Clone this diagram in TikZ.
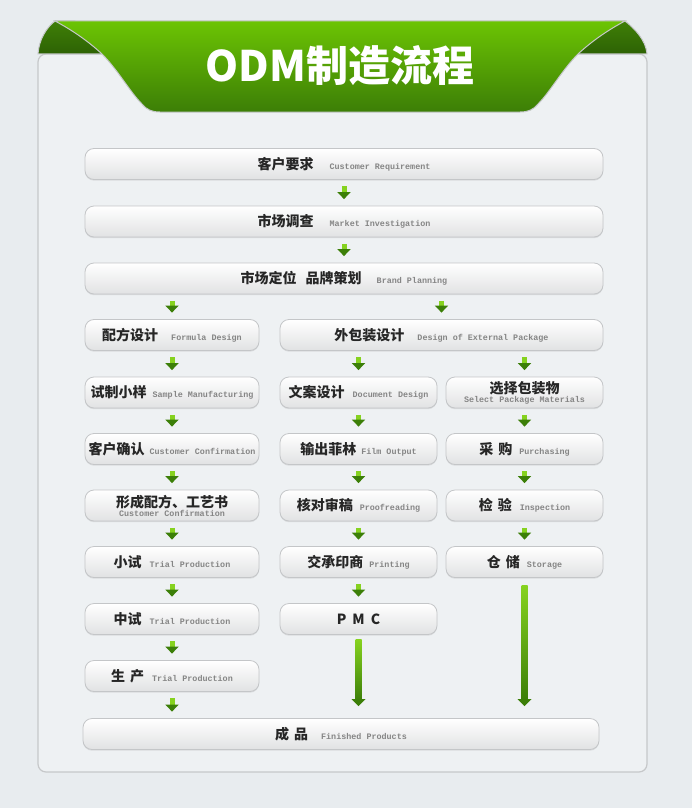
\documentclass[tikz,border=0pt]{standalone}
\usepackage{fontspec}
\usetikzlibrary{arrows.meta,calc,shadows}
\newfontfamily\zh{Noto Sans CJK SC}
\newfontfamily\en{Liberation Mono}
\definecolor{pagebg}{HTML}{E8ECEF}
\definecolor{panelbg}{HTML}{EEF1F3}
\definecolor{panelline}{HTML}{C6C8CA}
\definecolor{ribtop}{HTML}{6CC404}
\definecolor{ribbot}{HTML}{3C7E06}
\definecolor{foldtop}{HTML}{3F7F07}
\definecolor{foldbot}{HTML}{2D6204}
\definecolor{boxline}{HTML}{C4C6C8}
\definecolor{boxbot}{HTML}{E1E2E3}
\definecolor{entext}{HTML}{858585}
\definecolor{arrlight}{HTML}{86D21F}
\definecolor{arrdark}{HTML}{3C7F08}
\newcommand{\duo}[3][8pt]{{\zh\bfseries\fontsize{14}{16}\selectfont #2}\hspace{#1}{\en\bfseries\fontsize{8.4}{10}\selectfont\color{entext}#3}}
\newcommand{\twin}[2]{{\zh\bfseries\fontsize{14}{15}\selectfont #1}\\[-3pt]{\en\bfseries\fontsize{8.4}{9}\selectfont\color{entext}#2}}
\tikzset{
  stage/.style={rounded corners=9pt, draw=boxline, line width=.8pt,
    top color=white, bottom color=boxbot, minimum height=31pt, inner sep=0pt,
    align=center, text=black!85,
    drop shadow={shadow xshift=0pt, shadow yshift=-1.2pt, opacity=.18, fill=gray}},
  dn/.style={line width=5pt, draw=arrlight, shorten <=6.5pt, shorten >=6.5pt,
    -{Triangle[width=13pt,length=7pt,color=arrdark]}}
}
\begin{document}
\begin{tikzpicture}[x=1pt,y=-1pt]
\useasboundingbox (0,0) rectangle (692,808);
\fill[pagebg] (0,0) rectangle (692,808);
% panel
\draw[panelline, fill=panelbg, line width=1.2pt, rounded corners=8pt]
  (38,54) -- (38,772) -- (647,772) -- (647,54) -- cycle;
% folds behind the ribbon
\draw[panelline, line width=1pt, top color=foldtop, bottom color=foldbot]
  (38,54) .. controls (39,40) and (46,28) .. (55,21) -- (75,21) -- (103,54) -- cycle;
\draw[panelline, line width=1pt, top color=foldtop, bottom color=foldbot]
  (647,54) .. controls (646,40) and (634,28) .. (625,21) -- (605,21) -- (577,54) -- cycle;
% ribbon
\draw[panelline, line width=1pt, top color=ribtop, bottom color=ribbot]
  (55,21) .. controls (72,30) and (88,41) .. (102,54)
  .. controls (118,70) and (130,92) .. (142,104)
  .. controls (147,110) and (152,112) .. (160,112) -- (520,112)
  .. controls (528,112) and (533,110) .. (538,104)
  .. controls (550,92) and (562,70) .. (578,54)
  .. controls (592,41) and (608,30) .. (625,21) -- cycle;
\node (title) at (340,66) {\zh\bfseries\fontsize{42}{44}\selectfont\color{white}ODM制造流程};

% boxes
\node[stage, minimum width=518pt] (req) at (344,164) {\duo[16pt]{客户要求}{Customer Requirement}};
\node[stage, minimum width=518pt] (market) at (344,221.5) {\duo[16pt]{市场调查}{Market Investigation}};
\node[stage, minimum width=518pt] (brand) at (344,278.5) {\duo[15pt]{市场定位\hspace{9pt}品牌策划}{Brand Planning}};
\node[stage, minimum width=174pt] (formula) at (172,335) {\duo[13pt]{配方设计}{Formula Design}};
\node[stage, minimum width=323pt] (pack) at (441.5,335) {\duo[13pt]{外包装设计}{Design of External Package}};
\node[stage, minimum width=174pt] (sample) at (172,392.5) {\duo[6pt]{试制小样}{Sample Manufacturing}};
\node[stage, minimum width=157pt] (doc) at (358.5,392.5) {\duo[8pt]{文案设计}{Document Design}};
\node[stage, minimum width=157pt] (material) at (524.5,392.5) {\twin{选择包装物}{Select Package Materials}};
\node[stage, minimum width=174pt] (confirm) at (172,449) {\duo[5pt]{客户确认}{Customer Confirmation}};
\node[stage, minimum width=157pt] (film) at (358.5,449) {\duo[5pt]{输出菲林}{Film Output}};
\node[stage, minimum width=157pt] (buy) at (524.5,449) {\duo[7pt]{采\hspace{5pt}购}{Purchasing}};
\node[stage, minimum width=174pt] (recipe) at (172,505.5) {\twin{形成配方、工艺书}{Customer Confirmation}};
\node[stage, minimum width=157pt] (proof) at (358.5,505.5) {\duo[7pt]{核对审稿}{Proofreading}};
\node[stage, minimum width=157pt] (inspect) at (524.5,505.5) {\duo[8pt]{检\hspace{5pt}验}{Inspection}};
\node[stage, minimum width=174pt] (trial) at (172,562) {\duo[8pt]{小试}{Trial Production}};
\node[stage, minimum width=157pt] (print) at (358.5,562) {\duo[6pt]{交承印商}{Printing}};
\node[stage, minimum width=157pt] (store) at (524.5,562) {\duo[7pt]{仓\hspace{5pt}储}{Storage}};
\node[stage, minimum width=174pt] (pilot) at (172,619) {\duo[8pt]{中试}{Trial Production}};
\node[stage, minimum width=157pt] (pmc) at (358.5,619) {\zh\bfseries\fontsize{14}{16}\selectfont P\hspace{6pt}M\hspace{6pt}C};
\node[stage, minimum width=174pt] (mass) at (172,676) {\duo[8pt]{生\hspace{5pt}产}{Trial Production}};
\node[stage, minimum width=516pt] (done) at (341,734) {\duo[13pt]{成\hspace{5pt}品}{Finished Products}};

% short arrows
\draw[dn] (req) -- (market);
\draw[dn] (market) -- (brand);
\draw[dn] (formula.north |- brand.south) -- (formula.north);
\draw[dn] (pack.north |- brand.south) -- (pack.north);
\draw[dn] (formula) -- (sample);
\draw[dn] (doc.north |- pack.south) -- (doc.north);
\draw[dn] (material.north |- pack.south) -- (material.north);
\draw[dn] (sample) -- (confirm);
\draw[dn] (doc) -- (film);
\draw[dn] (material) -- (buy);
\draw[dn] (confirm) -- (recipe);
\draw[dn] (film) -- (proof);
\draw[dn] (buy) -- (inspect);
\draw[dn] (recipe) -- (trial);
\draw[dn] (proof) -- (print);
\draw[dn] (inspect) -- (store);
\draw[dn] (trial) -- (pilot);
\draw[dn] (print) -- (pmc);
\draw[dn] (pilot) -- (mass);
\draw[dn] (mass.south) -- (mass.south |- done.north);

% long arrows
\shade[top color=arrlight, bottom color=arrdark]
  ($(pmc.south)+(-3,5)$) rectangle ($(pmc.south |- done.north)+(3,-18)$);
\fill[arrdark] ($(pmc.south |- done.north)+(-7,-19)$) -- ($(pmc.south |- done.north)+(7,-19)$)
  -- ($(pmc.south |- done.north)+(0,-12)$) -- cycle;
\shade[top color=arrlight, bottom color=arrdark]
  ($(store.south)+(-3,8)$) rectangle ($(store.south |- done.north)+(3,-18)$);
\fill[arrdark] ($(store.south |- done.north)+(-7,-19)$) -- ($(store.south |- done.north)+(7,-19)$)
  -- ($(store.south |- done.north)+(0,-12)$) -- cycle;
\end{tikzpicture}
\end{document}
